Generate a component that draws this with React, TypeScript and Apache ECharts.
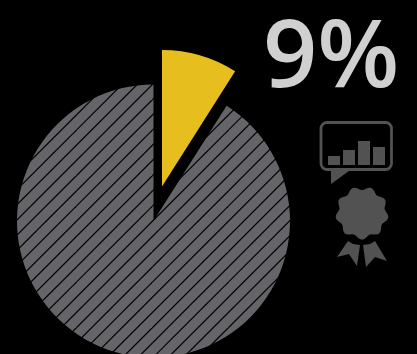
import React, { useEffect, useRef } from "react";
import * as echarts from "echarts";

const WIDTH = 417;
const HEIGHT = 354;

const shareLabels = ["Highlighted", "Other"];
const shareValues = [9, 91];
const headline = "9%";
const iconBars = [9, 15, 24, 18];

const YELLOW = "#e6bf1f";
const SLATE = "#656468";
const ICON = "#525252";

// Square tile carrying 45-degree hatch lines, repeated over the large slice.
function hatchTile(): HTMLCanvasElement {
  const size = 76;
  const period = 15.2;
  const phase = 8.9;
  const canvas = document.createElement("canvas");
  canvas.width = size;
  canvas.height = size;
  const ctx = canvas.getContext("2d")!;
  ctx.fillStyle = SLATE;
  ctx.fillRect(0, 0, size, size);
  ctx.strokeStyle = "#000000";
  ctx.lineWidth = 1.2;
  for (let k = -2; k < 13; k++) {
    const c = phase + k * period;
    ctx.beginPath();
    ctx.moveTo(c + 100, -100);
    ctx.lineTo(c - 100, 100);
    ctx.stroke();
  }
  return canvas;
}

// Scalloped outline of the rosette badge.
function rosette(cx: number, cy: number): number[][] {
  const points: number[][] = [];
  for (let i = 0; i < 180; i++) {
    const a = (i / 180) * Math.PI * 2;
    const r = 24.8 - 1.8 * Math.cos(9 * a);
    points.push([cx + r * Math.sin(a), cy - r * Math.cos(a)]);
  }
  return points;
}

function iconGraphics() {
  const baseline = 165;
  const barLefts = [328, 343, 358, 373];
  const bars = iconBars.map((h, i) => ({
    type: "rect",
    silent: true,
    shape: { x: barLefts[i], y: baseline - h, width: 12, height: h },
    style: { fill: ICON },
  }));
  return [
    {
      type: "rect",
      silent: true,
      shape: { x: 321, y: 122.5, width: 70.5, height: 47, r: 6 },
      style: { fill: "none", stroke: ICON, lineWidth: 2.8 },
    },
    {
      type: "polygon",
      silent: true,
      shape: { points: [[331, 170], [331, 184], [349, 171]] },
      style: { fill: ICON },
    },
    ...bars,
    {
      type: "polygon",
      silent: true,
      shape: { points: rosette(362, 213) },
      style: { fill: ICON },
    },
    {
      type: "polygon",
      silent: true,
      shape: { points: [[348, 241], [353, 244], [360, 245], [357, 266], [349, 254], [337, 257]] },
      style: { fill: ICON },
    },
    {
      type: "polygon",
      silent: true,
      shape: { points: [[363, 245], [370, 244], [375, 241], [387, 261], [375, 257], [366, 267]] },
      style: { fill: ICON },
    },
  ];
}

function sliceData(showIndex: number, color: unknown) {
  return shareValues.map((value, i) => ({
    name: shareLabels[i],
    value,
    itemStyle: { color: i === showIndex ? color : "rgba(0,0,0,0)" },
  }));
}

export default function App() {
  const ref = useRef<HTMLDivElement>(null);

  useEffect(() => {
    document.body.style.margin = "0";
    document.body.style.background = "#000000";
    const chart = echarts.init(ref.current!, undefined, { renderer: "svg" });
    const pieBase = {
      type: "pie",
      radius: 136.5,
      startAngle: 90,
      clockwise: true,
      silent: true,
      label: { show: false },
      labelLine: { show: false },
      emphasis: { disabled: true },
    };
    chart.setOption({
      animation: false,
      backgroundColor: "#000000",
      title: {
        text: headline,
        left: 263,
        top: 6,
        padding: 0,
        textStyle: {
          fontFamily: "Open Sans",
          fontSize: 95,
          lineHeight: 88,
          fontWeight: 600,
          color: "#d0d0d0",
        },
      },
      series: [
        {
          ...pieBase,
          center: [153.5, 221],
          data: sliceData(1, { image: hatchTile(), repeat: "repeat" }),
        },
        {
          ...pieBase,
          center: [162, 186.5],
          data: sliceData(0, YELLOW),
        },
      ],
      graphic: iconGraphics(),
    });
    return () => chart.dispose();
  }, []);

  return <div ref={ref} style={{ width: WIDTH, height: HEIGHT, overflow: "hidden" }} />;
}
